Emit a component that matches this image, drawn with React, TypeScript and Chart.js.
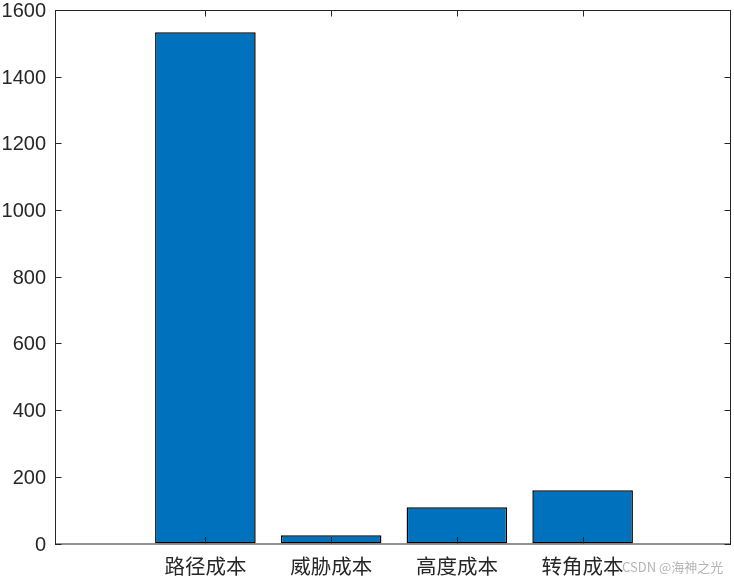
import { Chart } from 'chart.js/auto';
import { useEffect, useRef } from 'react';

const categories = ['路径成本', '威胁成本', '高度成本', '转角成本'];
const positions = [1, 2, 3, 4];
const costValues = [1533, 25, 109, 160];
const yTicks = [0, 200, 400, 600, 800, 1000, 1200, 1400, 1600];

const AXIS_COLOR = '#262626';
const TICK_LEN = 6.5;

// MATLAB-style box with inward ticks on all four sides
const matlabAxes = {
  id: 'matlabAxes',
  afterDatasetsDraw(chart: any) {
    const { ctx, chartArea: a, scales } = chart;
    const xs = scales.x;
    const ys = scales.y;
    ctx.save();
    ctx.strokeStyle = AXIS_COLOR;
    ctx.lineWidth = 1;
    ctx.strokeRect(a.left + 0.5, a.top + 0.5, a.right - a.left - 1, a.bottom - a.top);

    ctx.beginPath();
    positions.forEach((p) => {
      const px = Math.round(xs.getPixelForValue(p)) + 0.5;
      ctx.moveTo(px, a.bottom);
      ctx.lineTo(px, a.bottom - TICK_LEN);
      ctx.moveTo(px, a.top);
      ctx.lineTo(px, a.top + TICK_LEN);
    });
    yTicks.forEach((t) => {
      const py = Math.round(ys.getPixelForValue(t)) + 0.5;
      ctx.moveTo(a.left, py);
      ctx.lineTo(a.left + TICK_LEN, py);
      ctx.moveTo(a.right, py);
      ctx.lineTo(a.right - TICK_LEN, py);
    });
    ctx.stroke();

    ctx.fillStyle = AXIS_COLOR;
    ctx.font = '20px "Liberation Sans", Arial, sans-serif';
    ctx.textAlign = 'right';
    ctx.textBaseline = 'middle';
    yTicks.forEach((t) => {
      ctx.fillText(String(t), a.left - 9, ys.getPixelForValue(t) + 1.5);
    });

    ctx.font = '20.5px "Noto Sans CJK SC", sans-serif';
    ctx.textAlign = 'center';
    categories.forEach((c, i) => {
      ctx.fillText(c, xs.getPixelForValue(positions[i]), 566);
    });

    ctx.fillStyle = '#b4b4b4';
    ctx.font = '13px "Noto Sans CJK SC", sans-serif';
    ctx.textAlign = 'left';
    ctx.fillText('CSDN @海神之光', 622, 567);
    ctx.restore();
  },
};

function CostBarChart() {
  const chartRef = useRef<HTMLCanvasElement>(null);

  useEffect(() => {
    const context = chartRef.current?.getContext('2d');
    if (!context) return undefined;

    const chartInstance = new Chart(context, {
      type: 'bar',
      data: {
        datasets: [
          {
            label: '成本',
            data: positions.map((p, i) => ({ x: p, y: costValues[i] })),
            backgroundColor: '#0072BD',
            borderColor: '#000000',
            borderWidth: 1.5,
            borderSkipped: false,
            barPercentage: 1,
            categoryPercentage: 0.8,
          },
        ],
      },
      options: {
        animation: false,
        responsive: true,
        maintainAspectRatio: false,
        layout: { padding: { left: 55, top: 10, right: 3, bottom: 35.5 } },
        scales: {
          x: { type: 'linear', min: -0.196, max: 5.18, offset: false, display: false },
          y: { min: 0, max: 1600, display: false },
        },
        plugins: {
          legend: { display: false },
          tooltip: { enabled: false },
        },
      },
      plugins: [matlabAxes],
    });

    return () => {
      chartInstance.destroy();
    };
  }, []);

  return (
    <div style={{ position: 'absolute', left: 0, top: 0, width: 734, height: 579, background: '#fff' }}>
      <canvas ref={chartRef}></canvas>
    </div>
  );
}

export default function App() {
  return <CostBarChart />;
}
